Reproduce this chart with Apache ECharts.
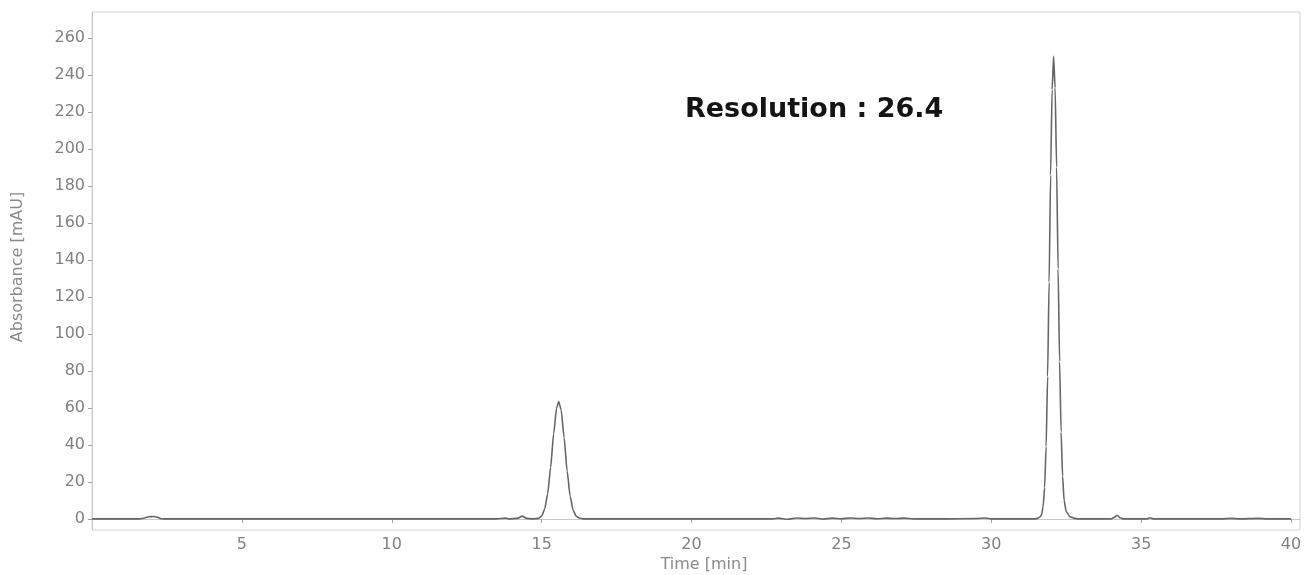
<!DOCTYPE html>
<html>
<head>
<meta charset="utf-8">
<script src="https://cdn.jsdelivr.net/npm/echarts@6/dist/echarts.min.js"></script>
<style>
html,body{margin:0;padding:0;background:#fff;}
#chart{width:1308px;height:575px;}
</style>
</head>
<body>
<div id="chart"></div>
<script>
// Retention time (min) and absorbance (mAU)
const timeMin = [
  0, 1.0, 1.6, 1.75, 1.9, 2.05, 2.2, 2.3, 2.4, 5, 10, 13.5, 13.8, 13.9, 14.2, 14.35, 14.5, 14.7,
  14.9, 15.0, 15.1, 15.2, 15.3, 15.4, 15.5, 15.57, 15.65, 15.75, 15.85, 15.95, 16.05, 16.15, 16.25, 16.4,
  20, 22.7, 22.9, 23.2, 23.5, 23.8, 24.1, 24.4, 24.7, 25.0, 25.3, 25.6, 25.9, 26.2, 26.5, 26.8, 27.1, 27.4,
  28.5, 29.5, 29.8, 30.0, 31.0, 31.45, 31.55, 31.62, 31.68, 31.73, 31.78, 31.83, 31.88, 31.93, 31.98, 32.03,
  32.08, 32.13, 32.18, 32.23, 32.28, 32.33, 32.38, 32.43, 32.5, 32.63, 32.78, 32.9,
  34.0, 34.1, 34.2, 34.3, 34.4, 35.2, 35.3, 35.4, 37.7, 38.0, 38.3, 38.9, 39.2, 40.0
];
const absorbance = [
  0, 0, 0, 0.5, 1.2, 1.3, 0.8, 0.1, 0, 0, 0, 0, 0.4, 0, 0.3, 1.5, 0.3, 0,
  0.3, 1.6, 5.2, 13.4, 27.8, 45.8, 60, 63.5, 59, 44, 26, 12.4, 4.7, 1.5, 0.5, 0,
  0, 0, 0.4, -0.2, 0.5, 0.2, 0.5, -0.1, 0.4, 0.1, 0.5, 0.2, 0.5, 0.1, 0.4, 0.2, 0.4, 0,
  0, 0.2, 0.5, 0, 0, 0, 0.3, 1.0, 2.2, 6.7, 17, 39, 77, 128, 186, 232,
  250, 233, 190, 135, 85, 47, 23, 10, 4, 1.2, 0.3, 0,
  0, 0.8, 2.0, 0.6, 0, 0, 0.6, 0, 0, 0.3, 0, 0.3, 0, 0
];
const xTicks = [5, 10, 15, 20, 25, 30, 35, 40];
const yTicks = [0, 20, 40, 60, 80, 100, 120, 140, 160, 180, 200, 220, 240, 260];
const annotationText = 'Resolution : 26.4';
const xName = 'Time [min]';
const yName = 'Absorbance [mAU]';

const seriesData = timeMin.map((t, i) => [t, absorbance[i]]);
const chart = echarts.init(document.getElementById('chart'), null, {renderer: 'canvas'});
const labelStyle = {color: '#808080', fontSize: 16, fontFamily: 'DejaVu Sans'};
chart.setOption({
  animation: false,
  backgroundColor: '#ffffff',
  grid: {left: 92, right: 8, top: 12, bottom: 45, show: true, borderColor: '#d4d4d4', borderWidth: 1, containLabel: false},
  xAxis: {
    type: 'value', min: 0, max: 40.3,
    axisLine: {show: true, lineStyle: {color: '#c8c8c8', width: 1}},
    axisTick: {show: true, customValues: xTicks, length: 4, lineStyle: {color: '#a0a0a0'}},
    axisLabel: Object.assign({customValues: xTicks, margin: 7}, labelStyle),
    splitLine: {show: false}
  },
  yAxis: {
    type: 'value', min: -6, max: 274,
    axisLine: {show: true, lineStyle: {color: '#c8c8c8', width: 1}},
    axisTick: {show: true, customValues: yTicks, length: 4, lineStyle: {color: '#a0a0a0'}},
    axisLabel: Object.assign({customValues: yTicks, margin: 7}, labelStyle),
    splitLine: {show: false}
  },
  graphic: [
    {type: 'text', left: 685, top: 96, style: {text: annotationText, fill: '#141414', font: 'bold 27px "DejaVu Sans"'}},
    {type: 'text', x: 704, y: 565, style: {text: xName, fill: '#8a8a8a', font: '16px "DejaVu Sans"', align: 'center', verticalAlign: 'middle'}},
    {type: 'text', x: 18, y: 267, rotation: Math.PI / 2, style: {text: yName, fill: '#8a8a8a', font: '16px "DejaVu Sans"', align: 'center', verticalAlign: 'middle'}}
  ],
  series: [{
    type: 'line',
    data: seriesData,
    showSymbol: false,
    smooth: 0.2,
    smoothMonotone: 'x',
    lineStyle: {color: '#666666', width: 1.6},
    silent: true
  }]
});
</script>
</body>
</html>
